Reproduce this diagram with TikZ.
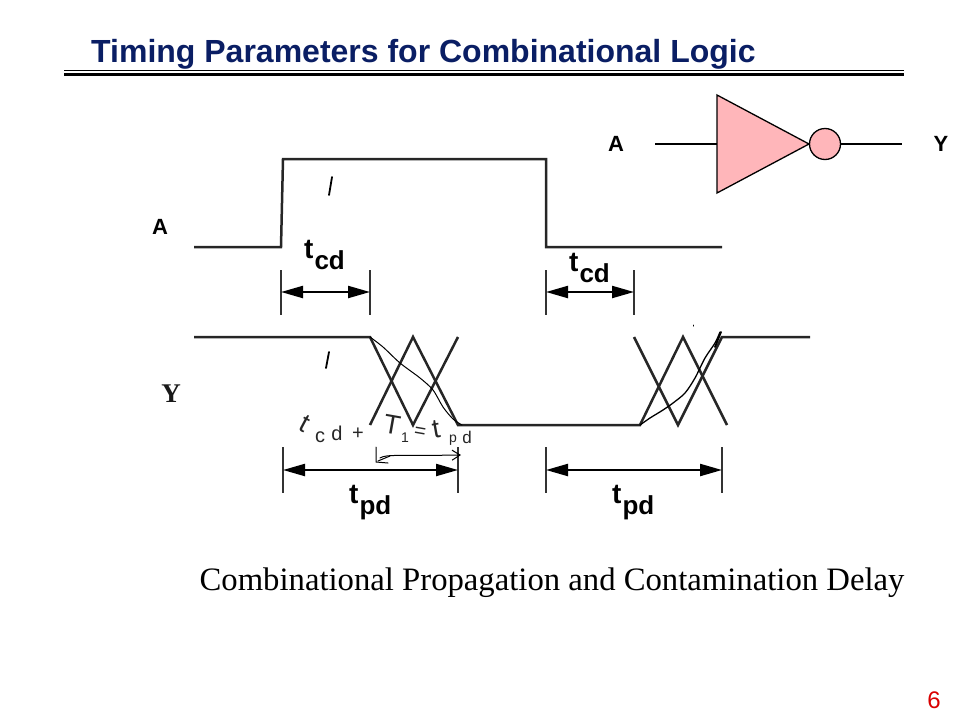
\documentclass[tikz,border=0pt]{standalone}
\usepackage{fontspec}
\setmainfont{Liberation Sans}
\newfontfamily\serifcap{Liberation Serif}
\usetikzlibrary{arrows.meta,shapes.geometric}
\definecolor{titleblue}{RGB}{10,30,100}
\definecolor{gatepink}{RGB}{255,182,186}
\tikzset{
  wave/.style={line width=2.5pt,draw=black!85},
  tick/.style={line width=2pt,draw=black!80},
  span/.style={line width=2.2pt,{Triangle[length=22pt,width=12pt]}-{Triangle[length=22pt,width=12pt]}},
  wire/.style={line width=1.5pt},
  pen/.style={line width=1pt,line join=round,line cap=round},
  lab/.style={font=\fontsize{22}{22}\selectfont\bfseries,inner sep=0pt},
  tlab/.style={font=\fontsize{28}{28}\selectfont\bfseries,inner sep=0pt,anchor=base west},
  hand/.style={font=\fontsize{20}{20}\selectfont,inner sep=0pt,text=black!85},
  handbig/.style={hand,font=\fontsize{27}{27}\selectfont},
}
\newcommand{\tsub}[1]{t\kern1pt\raisebox{-11.5pt}{\fontsize{26}{26}\selectfont #1}}
\begin{document}
\begin{tikzpicture}[x=1pt,y=-1pt]
  \useasboundingbox (0,0) rectangle (960,720);

  % Title
  \draw (91,62) node(title) [anchor=base west,inner sep=0pt,text=titleblue,font=\fontsize{32}{32}\selectfont\bfseries] {Timing Parameters for Combinational Logic};
  \draw (64,70)  coordinate(ruleAL) (904,70)  coordinate(ruleAR);
  \draw (64,74.5) coordinate(ruleBL) (904,74.5) coordinate(ruleBR);
  \path[draw,line width=1pt]   (ruleAL) -- (ruleAR);
  \path[draw,line width=3.5pt] (ruleBL) -- (ruleBR);

  % Inverter
  \draw (616,144) node(invA) [lab] {A};
  \draw (941,144) node(invY) [lab] {Y};
  \draw (717,143) coordinate(gateIn);
  \draw (655,144) coordinate(wireIn);
  \draw (902,144) coordinate(wireOut);
  \filldraw[fill=gatepink,line width=1.3pt,line join=miter] (717,95) -- (809,144) -- (717,193) -- cycle;
  \draw (825,144) node(bubble) [circle,draw,fill=gatepink,line width=1.3pt,minimum size=31pt,inner sep=0pt] {};
  \path[draw,wire] (wireIn) -- (gateIn |- wireIn);
  \path[draw,wire] (bubble) -- (wireOut);

  % Waveforms
  \draw (160,227) node(sigA) [lab] {A};
  \draw (171,394) node(sigY) [inner sep=0pt,font=\serifcap\fontsize{27}{27}\selectfont\bfseries,text=black!90] {Y};
  \draw[wave] (194,247) -- (281,247) -- (283,159) -- (546,159) -- (546,247) -- (722,247);
  \draw[wave] (194,337) -- (370,337) -- (413,425) -- (458,337);
  \draw[wave] (370,425) -- (413,337) -- (458,425) -- (640,425) -- (683,337) -- (727,425);
  \draw[wave] (634,337) -- (678,425) -- (722,337) -- (810,337);

  % Contamination delay
  \draw (281,270) coordinate(c1t) (281,315) coordinate(c1b) (281,292) coordinate(c1m);
  \draw (370,270) coordinate(c2t) (370,315) coordinate(c2b) (370,292) coordinate(c2m);
  \draw (546,270) coordinate(c3t) (546,315) coordinate(c3b) (546,292) coordinate(c3m);
  \draw (634,270) coordinate(c4t) (634,315) coordinate(c4b) (634,292) coordinate(c4m);
  \path[draw,tick] (c1t) -- (c1b);
  \path[draw,tick] (c2t) -- (c2b);
  \path[draw,tick] (c3t) -- (c3b);
  \path[draw,tick] (c4t) -- (c4b);
  \path[draw,span] (c1m) -- (c2m);
  \path[draw,span] (c3m) -- (c4m);
  \draw (304,258) node(tcdA) [tlab] {\tsub{cd}};
  \draw (569,271) node(tcdB) [tlab] {\tsub{cd}};

  % Propagation delay
  \draw (283,447) coordinate(p1t) (283,493) coordinate(p1b) (283,470) coordinate(p1m);
  \draw (458,447) coordinate(p2t) (458,493) coordinate(p2b) (458,470) coordinate(p2m);
  \draw (546,447) coordinate(p3t) (546,493) coordinate(p3b) (546,470) coordinate(p3m);
  \draw (722,447) coordinate(p4t) (722,493) coordinate(p4b) (722,470) coordinate(p4m);
  \path[draw,tick] (p1t) -- (p1b);
  \path[draw,tick] (p2t) -- (p2b);
  \path[draw,tick] (p3t) -- (p3b);
  \path[draw,tick] (p4t) -- (p4b);
  \path[draw,span] (p1m) -- (p2m);
  \path[draw,span] (p3m) -- (p4m);
  \draw (349,503) node(tpdA) [tlab] {\tsub{pd}};
  \draw (612,503) node(tpdB) [tlab] {\tsub{pd}};

  % Pen marks
  \draw[pen,line width=1.8pt] (332,177) -- (329,195);
  \draw[pen,line width=1.8pt] (329,352) -- (326,368);
  \draw[pen] (693,325) -- (693,326);
  \draw[pen] plot[smooth] coordinates {(370,337) (383,347) (400,363) (420,378) (433,390) (443,407) (453,419) (462,425)};
  \draw[pen,line width=1.3pt] plot[smooth] coordinates {(640,425) (650,418) (663,410) (673,403) (685,393) (695,378) (705,358) (715,343) (720,332)};
  \draw[pen,line width=1.8pt] (715,347) -- (721,332);
  \draw (380,458) coordinate(penL) (461,455) coordinate(penR);
  \path[draw,pen,-{Straight Barb[length=8pt,width=10pt]}] (penL) .. controls (386,454) and (400,456) .. (penR);
  \draw[pen] (376,447) -- (376,462) -- (388,463);
  \draw[pen] (378,461) -- (390,456);

  % Handwriting
  \draw (305,424) node(handT) [handbig,rotate=-28] {t};
  \draw (320,437) node(handC) [hand] {c};
  \draw (337,433) node(handD) [hand] {d};
  \draw (358,434) node(handP) [hand] {+};
  \draw (392,425) node(handU) [handbig,rotate=-10] {T};
  \draw (405,438) node(handO) [hand,font=\fontsize{14}{14}\selectfont] {1};
  \draw (420,433) node(handQ) [hand,rotate=-10] {=};
  \draw (436,429) node(handV) [handbig,rotate=10] {t};
  \draw (453,440) node(handR) [hand,font=\fontsize{14}{14}\selectfont] {p};
  \draw (467,437) node(handS) [hand,font=\fontsize{17}{17}\selectfont] {d};

  % Caption and page number
  \draw (552,590) node(caption) [anchor=base,inner sep=0pt,text=black,font=\serifcap\fontsize{32.7}{33}\selectfont] {Combinational Propagation and Contamination Delay};
  \draw (934,708) node(pagenum) [anchor=base,inner sep=0pt,text=red!85!black,font=\fontsize{24}{24}\selectfont] {6};
\end{tikzpicture}
\end{document}
